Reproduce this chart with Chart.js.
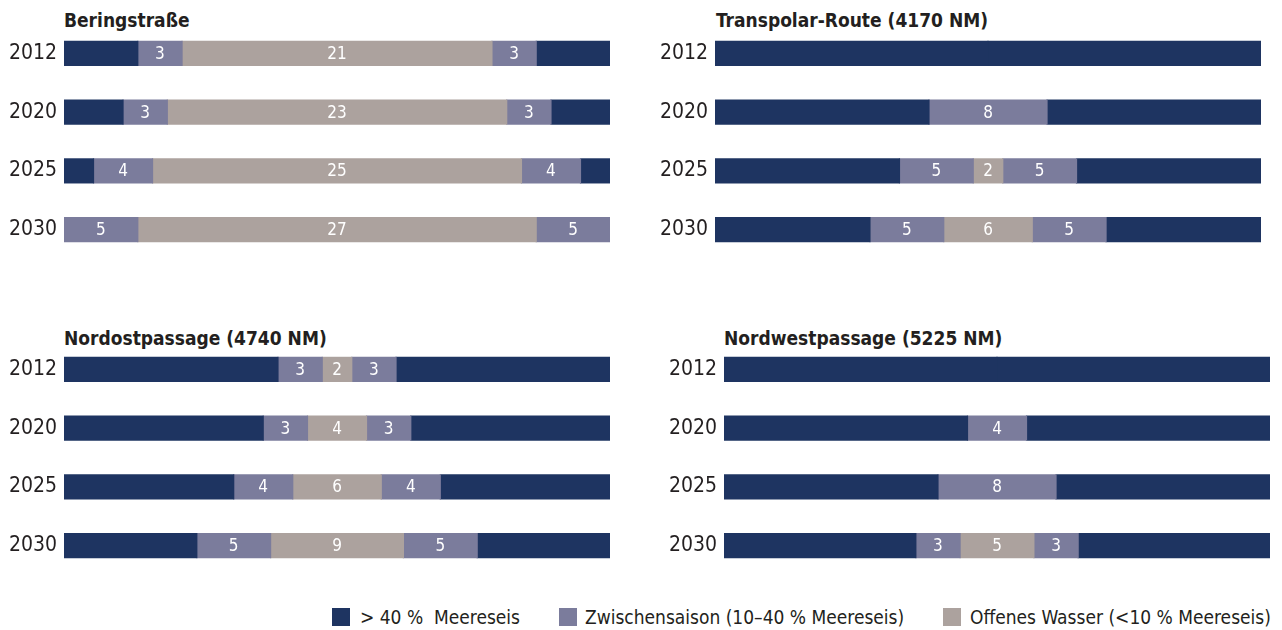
<!DOCTYPE html>
<html>
<head>
<meta charset="utf-8">
<script src="https://cdn.jsdelivr.net/npm/chart.js"></script>
<style>
  body { margin: 0; background: #fff; }
  #wrap { position: relative; width: 1282px; height: 630px; overflow: hidden;
          font-family: "DejaVu Sans Condensed", "DejaVu Sans", sans-serif; color: #231f20; }
  canvas { position: absolute; }
  .titel { position: absolute; font-weight: bold; font-size: 19px; line-height: 19px; white-space: nowrap; }
  .leg { position: absolute; top: 605px; font-size: 19px; line-height: 24px; white-space: nowrap; }
  .leg i { position: absolute; left: 0; top: 3px; width: 18px; height: 18px; }
  .leg span { position: absolute; white-space: nowrap; }
</style>
</head>
<body>
<div id="wrap">
  <div class="titel" style="left:64px;top:11px">Beringstraße</div>
  <div class="titel" style="left:716px;top:11px">Transpolar-Route (4170 NM)</div>
  <div class="titel" style="left:64px;top:329px">Nordostpassage (4740 NM)</div>
  <div class="titel" style="left:724px;top:329px">Nordwestpassage (5225 NM)</div>

  <canvas id="bering" width="610" height="235" style="left:0;top:24px"></canvas>
  <canvas id="transpolar" width="610" height="235" style="left:651px;top:24px"></canvas>
  <canvas id="nordost" width="610" height="235" style="left:0;top:340px"></canvas>
  <canvas id="nordwest" width="610" height="235" style="left:660px;top:340px"></canvas>

  <div class="leg" style="left:332px"><i style="background:#1e3461"></i><span style="left:28px">&gt; 40 %&nbsp; Meereseis</span></div>
  <div class="leg" style="left:559px"><i style="background:#7b7c9c"></i><span style="left:26px">Zwischensaison (10–40 % Meereseis)</span></div>
  <div class="leg" style="left:943px"><i style="background:#aca29e"></i><span style="left:27px">Offenes Wasser (&lt;10 % Meereseis)</span></div>
</div>

<script>
const years = ['2012', '2020', '2025', '2030'];
const totalWeeks = 37;

// Balken sind symmetrisch: Eis | Zwischensaison | offen | Zwischensaison | Eis
const beringIce = [5, 4, 2, 0];
const beringMidL = [3, 3, 4, 5];
const beringOpen = [21, 23, 25, 27];
const beringMidR = [3, 3, 4, 5];

const transIce = [18.5, 14.5, 12.5, 10.5];
const transMidL = [0, 8, 5, 5];
const transOpen = [0, 0, 2, 6];
const transMidR = [0, 0, 5, 5];

const ostIce = [14.5, 13.5, 11.5, 9];
const ostMidL = [3, 3, 4, 5];
const ostOpen = [2, 4, 6, 9];
const ostMidR = [3, 3, 4, 5];

const westIce = [18.5, 16.5, 14.5, 13];
const westMidL = [0, 4, 8, 3];
const westOpen = [0, 0, 0, 5];
const westMidR = [0, 0, 0, 3];

const EIS = '#1e3461';
const MITTE = '#7b7c9c';
const OFFEN = '#aca29e';
const FONT = '"DejaVu Sans Condensed", "DejaVu Sans", sans-serif';

// Zahlen in die Segmente schreiben (nur Zwischensaison und offenes Wasser)
const segmentLabels = {
  id: 'segmentLabels',
  afterDatasetsDraw(chart) {
    const c = chart.ctx;
    c.save();
    c.fillStyle = '#ffffff';
    c.font = '17px ' + FONT;
    c.textAlign = 'center';
    c.textBaseline = 'middle';
    chart.data.datasets.forEach((ds, i) => {
      if (!ds.showValue) return;
      chart.getDatasetMeta(i).data.forEach((bar, j) => {
        const v = ds.data[j];
        if (!v) return;
        c.fillText(v, (bar.x + bar.base) / 2, bar.y + 1);
      });
    });
    c.restore();
  }
};

function makeChart(id, ice, midL, open, midR) {
  const seg = (data, color, showValue) => ({
    data: data.map(v => v || null), backgroundColor: color, borderWidth: 0,
    inflateAmount: 0.6, barThickness: 24, showValue: showValue
  });
  new Chart(document.getElementById(id), {
    type: 'bar',
    data: {
      labels: years,
      datasets: [
        seg(ice, EIS, false),
        seg(midL, MITTE, true),
        seg(open, OFFEN, true),
        seg(midR, MITTE, true),
        seg(ice, EIS, false)
      ]
    },
    options: {
      indexAxis: 'y',
      responsive: false,
      animation: false,
      layout: { padding: 0 },
      plugins: { legend: { display: false }, tooltip: { enabled: false } },
      scales: {
        x: { stacked: true, display: false, min: 0, max: totalWeeks },
        y: {
          stacked: true,
          grid: { display: false, drawTicks: false },
          border: { display: false },
          ticks: { color: '#231f20', padding: 7, font: { family: FONT, size: 21 } },
          afterFit(axis) {
            axis.width = 64;
            axis.paddingTop = 0;
            axis.paddingBottom = 0;
          }
        }
      }
    },
    plugins: [segmentLabels]
  });
}

makeChart('bering', beringIce, beringMidL, beringOpen, beringMidR);
makeChart('transpolar', transIce, transMidL, transOpen, transMidR);
makeChart('nordost', ostIce, ostMidL, ostOpen, ostMidR);
makeChart('nordwest', westIce, westMidL, westOpen, westMidR);
</script>
</body>
</html>
